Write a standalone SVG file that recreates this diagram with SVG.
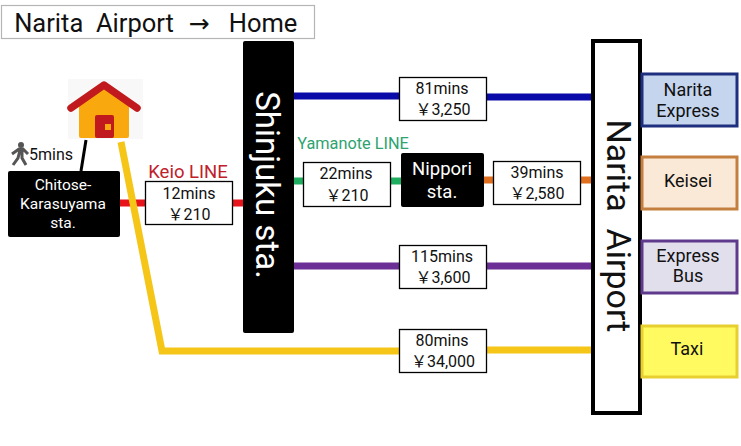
<svg xmlns="http://www.w3.org/2000/svg" width="741" height="446" viewBox="0 0 741 446">
<style>
text{font-family:Roboto,"Noto Sans CJK JP","Liberation Sans",sans-serif;text-anchor:middle;white-space:pre}
.l{fill:none;stroke-width:7}
.b{fill:#fff;stroke:#000;stroke-width:1.3}
.t{font-size:16px;fill:#111}
.w{fill:#fff}
.s{font-size:18px;fill:#111}
</style>
<rect width="741" height="446" fill="#fff"/>
<g id="title"><rect x="1.500" y="5.500" width="313" height="33" fill="#fff" stroke="#b5b5b5" stroke-width="1.200"/>
<text x="94" y="32" font-size="25.500" fill="#111">Narita  Airport</text><text x="199" y="32" font-size="25" fill="#111" style="font-family:'DejaVu Sans',sans-serif">→</text><text x="263" y="32" font-size="25.500" fill="#111">Home</text></g>
<g id="connectors">
<path d="M86 140L81 171" fill="none" stroke="#000" stroke-width="3"/>
<path class="l" stroke="#e8141c" d="M120 203H145M232 203H243"/>
<path class="l" stroke="#f5c518" d="M121 142L162 351H399M486 350H592"/>
<path class="l" stroke="#0a0aa8" d="M294 96H399M486 97H592"/>
<path class="l" stroke="#1fae5f" d="M294 181H303M390 181H401"/>
<path class="l" stroke="#e0701f" d="M484 180H493M581 180H592"/>
<path class="l" stroke="#6b2f96" d="M294 266H399M486 266H592"/>
</g>
<g id="home"><rect x="68" y="79" width="75" height="60" fill="#f8f8f8"/>
<path d="M79 106L104 88L129 106V136a2 2 0 0 1-2 2H81a2 2 0 0 1-2-2Z" fill="#f9a80e"/>
<path d="M71 108L104 85L137 108" fill="none" stroke="#c01a1e" stroke-width="7.500" stroke-linecap="round" stroke-linejoin="round"/>
<rect x="95" y="115" width="19" height="23" rx="2" fill="#c01a1e"/><rect x="105" y="124" width="6" height="6" fill="#f9a80e"/></g>
<g id="walk"><circle cx="21" cy="145" r="3" fill="#555"/>
<path d="M12 154L19 149H23L28 154M20 150L18 158L13 165M22 150L22 158L26 165" fill="none" stroke="#555" stroke-width="3"/>
<text class="t" x="51" y="160">5mins</text></g>
<g id="chitose"><rect x="8" y="171" width="112" height="66" rx="2" fill="#000"/>
<text class="w" font-size="15.500"><tspan x="63" y="190">Chitose-</tspan><tspan x="63" y="209">Karasuyama</tspan><tspan x="63" y="228">sta.</tspan></text></g>
<g id="keio"><text x="188" y="178" font-size="18.500" fill="#c0202a">Keio LINE</text><rect class="b" x="145.500" y="181.500" width="87" height="43"/>
<text class="t" x="189" y="199">12mins</text><text class="t" x="189" y="220">￥210</text></g>
<g id="shinjuku"><rect x="243" y="41" width="51" height="292" rx="2" fill="#000"/>
<text class="w" font-size="33" transform="translate(256 185) rotate(90)">Shinjuku sta.</text></g>
<g id="r1"><rect class="b" x="399.500" y="77.500" width="87" height="43"/><text class="t" x="442" y="94">81mins</text><text class="t" x="443" y="115">￥3,250</text></g>
<g id="yamanote"><text x="353" y="149" font-size="16.300" fill="#2ea36f">Yamanote LINE</text><rect class="b" x="303.500" y="162.500" width="87" height="44"/><text class="t" x="346" y="179">22mins</text><text class="t" x="347" y="201">￥210</text></g>
<g id="nippori"><rect x="401" y="153" width="83" height="54" rx="2" fill="#000"/><text class="w" font-size="18.500"><tspan x="442" y="175">Nippori</tspan><tspan x="442" y="198">sta.</tspan></text></g>
<g id="r2"><rect class="b" x="493.500" y="161.500" width="87" height="43"/><text class="t" x="537" y="178">39mins</text><text class="t" x="537" y="199">￥2,580</text></g>
<g id="r3"><rect class="b" x="399.500" y="245.500" width="87" height="43"/><text class="t" x="442" y="262">115mins</text><text class="t" x="443" y="283">￥3,600</text></g>
<g id="r4"><rect class="b" x="399.500" y="329.500" width="87" height="43"/><text class="t" x="442" y="346">80mins</text><text class="t" x="443" y="367">￥34,000</text></g>
<g id="narita"><rect x="593" y="41" width="47" height="372" fill="#fff" stroke="#000" stroke-width="4"/>
<text font-size="34" fill="#111" transform="translate(607 226) rotate(90)">Narita  Airport</text></g>
<g id="nex"><rect x="642" y="74" width="95" height="52" fill="#c5d5ee" stroke="#1f2f7f" stroke-width="3"/><text class="s"><tspan x="688" y="96">Narita</tspan><tspan x="688" y="117">Express</tspan></text></g>
<g id="keisei"><rect x="642" y="157" width="95" height="52" fill="#fbe9d7" stroke="#c47e3e" stroke-width="3"/><text class="s" x="688" y="187">Keisei</text></g>
<g id="bus"><rect x="642" y="241" width="95" height="52" fill="#e2dfec" stroke="#5f3a8c" stroke-width="3"/><text class="s"><tspan x="688" y="262">Express</tspan><tspan x="688" y="282">Bus</tspan></text></g>
<g id="taxi"><rect x="642" y="326" width="95" height="51" fill="#fffa60" stroke="#e8cf30" stroke-width="3"/><text class="s" x="687" y="355">Taxi</text></g>
</svg>
